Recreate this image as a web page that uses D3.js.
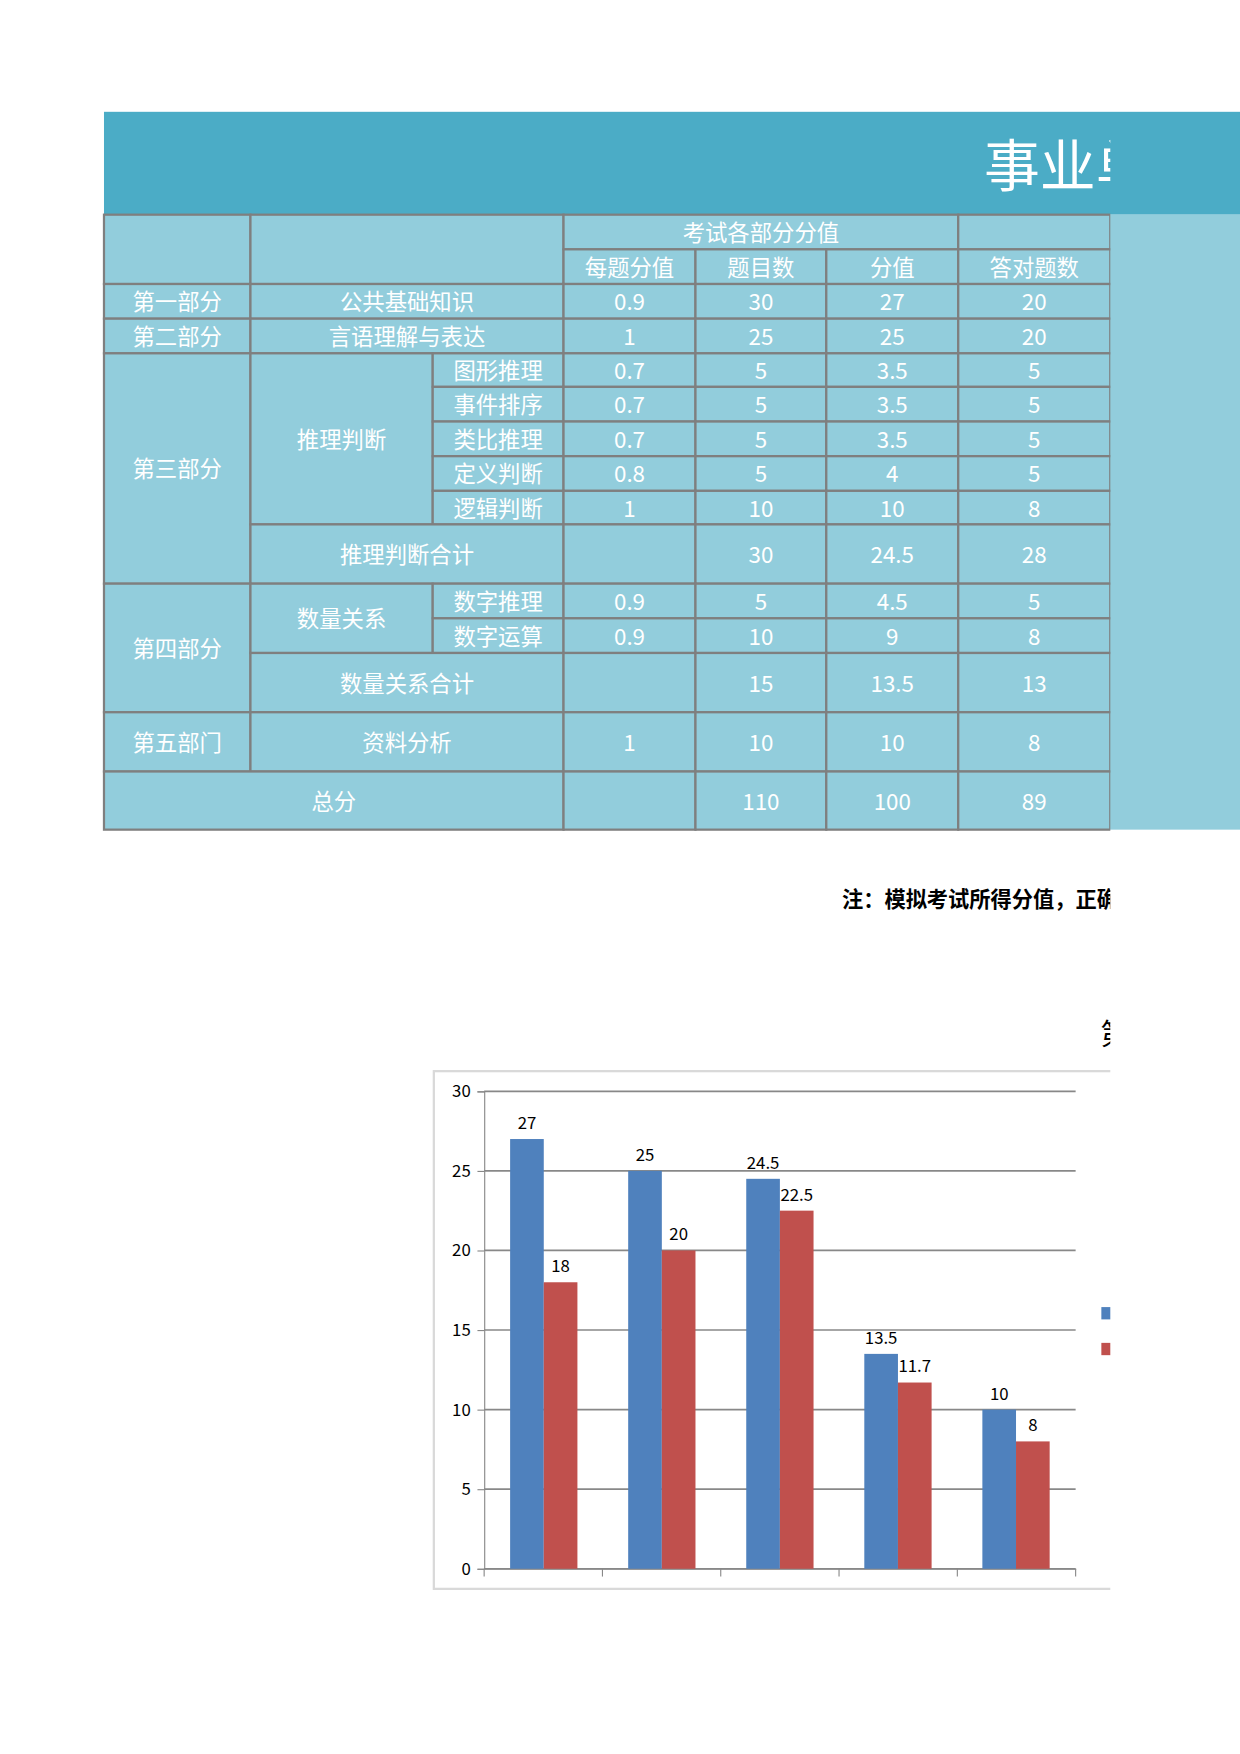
<!DOCTYPE html>
<html><head><meta charset="utf-8">
<script src="https://cdn.jsdelivr.net/npm/d3@7"></script>
<style>body{margin:0;background:#fff}text{font-family:"Noto Sans CJK SC","Lato",sans-serif}</style>
</head><body><div id="page"></div>
<script>
// chart data
var categories = ["第一部分", "第二部分", "第三部分", "第四部分", "第五部门"];
var fullScore = [27, 25, 24.5, 13.5, 10];
var gotScore = [18, 20, 22.5, 11.7, 8];
var seriesNames = ["分值", "得分"];
var yTicks = [0, 5, 10, 15, 20, 25, 30];

// table cells: [col0, col1, row0, row1, text]
var colX = [93, 224, 387, 504, 622, 739, 857, 993];
var rowY = [192, 223, 254, 285, 316, 346, 377, 408, 439, 469, 522, 553, 584, 637, 690, 742];
var cells = [
  [0,1,0,2,""],[1,3,0,2,""],[3,6,0,1,"考试各部分分值"],[6,7,0,1,""],
  [3,4,1,2,"每题分值"],[4,5,1,2,"题目数"],[5,6,1,2,"分值"],[6,7,1,2,"答对题数"],
  [0,1,2,3,"第一部分"],[1,3,2,3,"公共基础知识"],[3,4,2,3,"0.9"],[4,5,2,3,"30"],[5,6,2,3,"27"],[6,7,2,3,"20"],
  [0,1,3,4,"第二部分"],[1,3,3,4,"言语理解与表达"],[3,4,3,4,"1"],[4,5,3,4,"25"],[5,6,3,4,"25"],[6,7,3,4,"20"],
  [0,1,4,10,"第三部分"],[1,2,4,9,"推理判断"],
  [2,3,4,5,"图形推理"],[3,4,4,5,"0.7"],[4,5,4,5,"5"],[5,6,4,5,"3.5"],[6,7,4,5,"5"],
  [2,3,5,6,"事件排序"],[3,4,5,6,"0.7"],[4,5,5,6,"5"],[5,6,5,6,"3.5"],[6,7,5,6,"5"],
  [2,3,6,7,"类比推理"],[3,4,6,7,"0.7"],[4,5,6,7,"5"],[5,6,6,7,"3.5"],[6,7,6,7,"5"],
  [2,3,7,8,"定义判断"],[3,4,7,8,"0.8"],[4,5,7,8,"5"],[5,6,7,8,"4"],[6,7,7,8,"5"],
  [2,3,8,9,"逻辑判断"],[3,4,8,9,"1"],[4,5,8,9,"10"],[5,6,8,9,"10"],[6,7,8,9,"8"],
  [1,3,9,10,"推理判断合计"],[3,4,9,10,""],[4,5,9,10,"30"],[5,6,9,10,"24.5"],[6,7,9,10,"28"],
  [0,1,10,13,"第四部分"],[1,2,10,12,"数量关系"],
  [2,3,10,11,"数字推理"],[3,4,10,11,"0.9"],[4,5,10,11,"5"],[5,6,10,11,"4.5"],[6,7,10,11,"5"],
  [2,3,11,12,"数字运算"],[3,4,11,12,"0.9"],[4,5,11,12,"10"],[5,6,11,12,"9"],[6,7,11,12,"8"],
  [1,3,12,13,"数量关系合计"],[3,4,12,13,""],[4,5,12,13,"15"],[5,6,12,13,"13.5"],[6,7,12,13,"13"],
  [0,1,13,14,"第五部门"],[1,3,13,14,"资料分析"],[3,4,13,14,"1"],[4,5,13,14,"10"],[5,6,13,14,"10"],[6,7,13,14,"8"],
  [0,3,14,15,"总分"],[3,4,14,15,""],[4,5,14,15,"110"],[5,6,14,15,"100"],[6,7,14,15,"89"]
];

var svg = d3.select("#page").append("svg").attr("width", 1240).attr("height", 1754);
var root = svg.append("g").attr("transform", "scale(" + (1240 / 1109) + ")");
root.append("clipPath").attr("id", "cut").append("rect").attr("x", 0).attr("y", 0).attr("width", 993).attr("height", 1600);

// header band and table background
root.append("rect").attr("x", 93).attr("y", 100).attr("width", 1016).attr("height", 92).attr("fill", "#4bacc6");
root.append("rect").attr("x", 93).attr("y", 192).attr("width", 1016).attr("height", 550).attr("fill", "#92cddc");
root.append("text").attr("clip-path", "url(#cut)").attr("x", 880).attr("y", 166)
  .attr("font-size", 50).attr("fill", "#fff").text("事业单位考试模拟成绩分析表");

var cg = root.append("g").attr("clip-path", "url(#cut)");
cg.selectAll("rect.cell").data(cells).join("rect").attr("class", "cell")
  .attr("x", d => colX[d[0]]).attr("y", d => rowY[d[2]])
  .attr("width", d => colX[d[1]] - colX[d[0]]).attr("height", d => rowY[d[3]] - rowY[d[2]])
  .attr("fill", "#92cddc").attr("stroke", "#7f7f7f").attr("stroke-width", 2);
cg.selectAll("text.cell").data(cells).join("text").attr("class", "cell")
  .attr("x", d => (colX[d[0]] + colX[d[1]]) / 2).attr("y", d => (rowY[d[2]] + rowY[d[3]]) / 2 + 8)
  .attr("text-anchor", "middle").attr("font-size", 20).attr("fill", "#fff").text(d => d[4]);

root.append("text").attr("clip-path", "url(#cut)").attr("x", 753).attr("y", 811)
  .attr("font-size", 19).attr("font-weight", "bold").attr("fill", "#000")
  .text("注：模拟考试所得分值，正确率越高越好");

// chart
var ch = root.append("g").attr("clip-path", "url(#cut)");
ch.append("text").attr("x", 984).attr("y", 935).attr("font-size", 26).text("第");
ch.append("rect").attr("x", 388).attr("y", 958).attr("width", 720).attr("height", 463)
  .attr("fill", "#fff").attr("stroke", "#d9d9d9").attr("stroke-width", 2);

var x = d3.scaleBand().domain(categories).range([433, 962]).paddingInner(0.43).paddingOuter(0.22);
var y = d3.scaleLinear().domain([0, 30]).range([1403, 976]);

ch.append("g").selectAll("line").data(yTicks).join("line")
  .attr("x1", 433).attr("x2", 962).attr("y1", d => y(d)).attr("y2", d => y(d))
  .attr("stroke", "#888").attr("stroke-width", 1.5);
var ya = ch.append("g").attr("transform", "translate(433,0)")
  .call(d3.axisLeft(y).tickValues(yTicks).tickSize(6).tickPadding(6));
ya.select(".domain").attr("stroke", "#888");
ya.selectAll("line").attr("stroke", "#888");
ya.selectAll("text").attr("font-size", 15).attr("font-family", "Lato").attr("fill", "#000");
var xa = ch.append("g").attr("transform", "translate(0,1403)")
  .call(d3.axisBottom(x).tickFormat("").tickSize(0));
xa.select(".domain").attr("stroke", "#888");
var step = (962 - 433) / categories.length;
xa.selectAll("line.sep").data(d3.range(categories.length + 1)).join("line").attr("class", "sep")
  .attr("x1", d => 433 + d * step).attr("x2", d => 433 + d * step).attr("y1", 0).attr("y2", 7)
  .attr("stroke", "#888");

var bw = x.bandwidth() / 2;
[[fullScore, "#4f81bd", 0], [gotScore, "#c0504d", 1]].forEach(function(s) {
  ch.append("g").selectAll("rect").data(s[0]).join("rect")
    .attr("x", (d, i) => x(categories[i]) + s[2] * bw).attr("y", d => y(d))
    .attr("width", bw).attr("height", d => y(0) - y(d)).attr("fill", s[1]);
  ch.append("g").selectAll("text").data(s[0]).join("text")
    .attr("x", (d, i) => x(categories[i]) + s[2] * bw + bw / 2).attr("y", d => y(d) - 9)
    .attr("text-anchor", "middle").attr("font-size", 15).attr("font-family", "Lato").text(d => d);
});

// legend
seriesNames.forEach(function(n, i) {
  ch.append("rect").attr("x", 985).attr("y", 1169 + i * 32).attr("width", 11).attr("height", 11)
    .attr("fill", i ? "#c0504d" : "#4f81bd");
  ch.append("text").attr("x", 1002).attr("y", 1180 + i * 32).attr("font-size", 15).text(n);
});
</script></body></html>
